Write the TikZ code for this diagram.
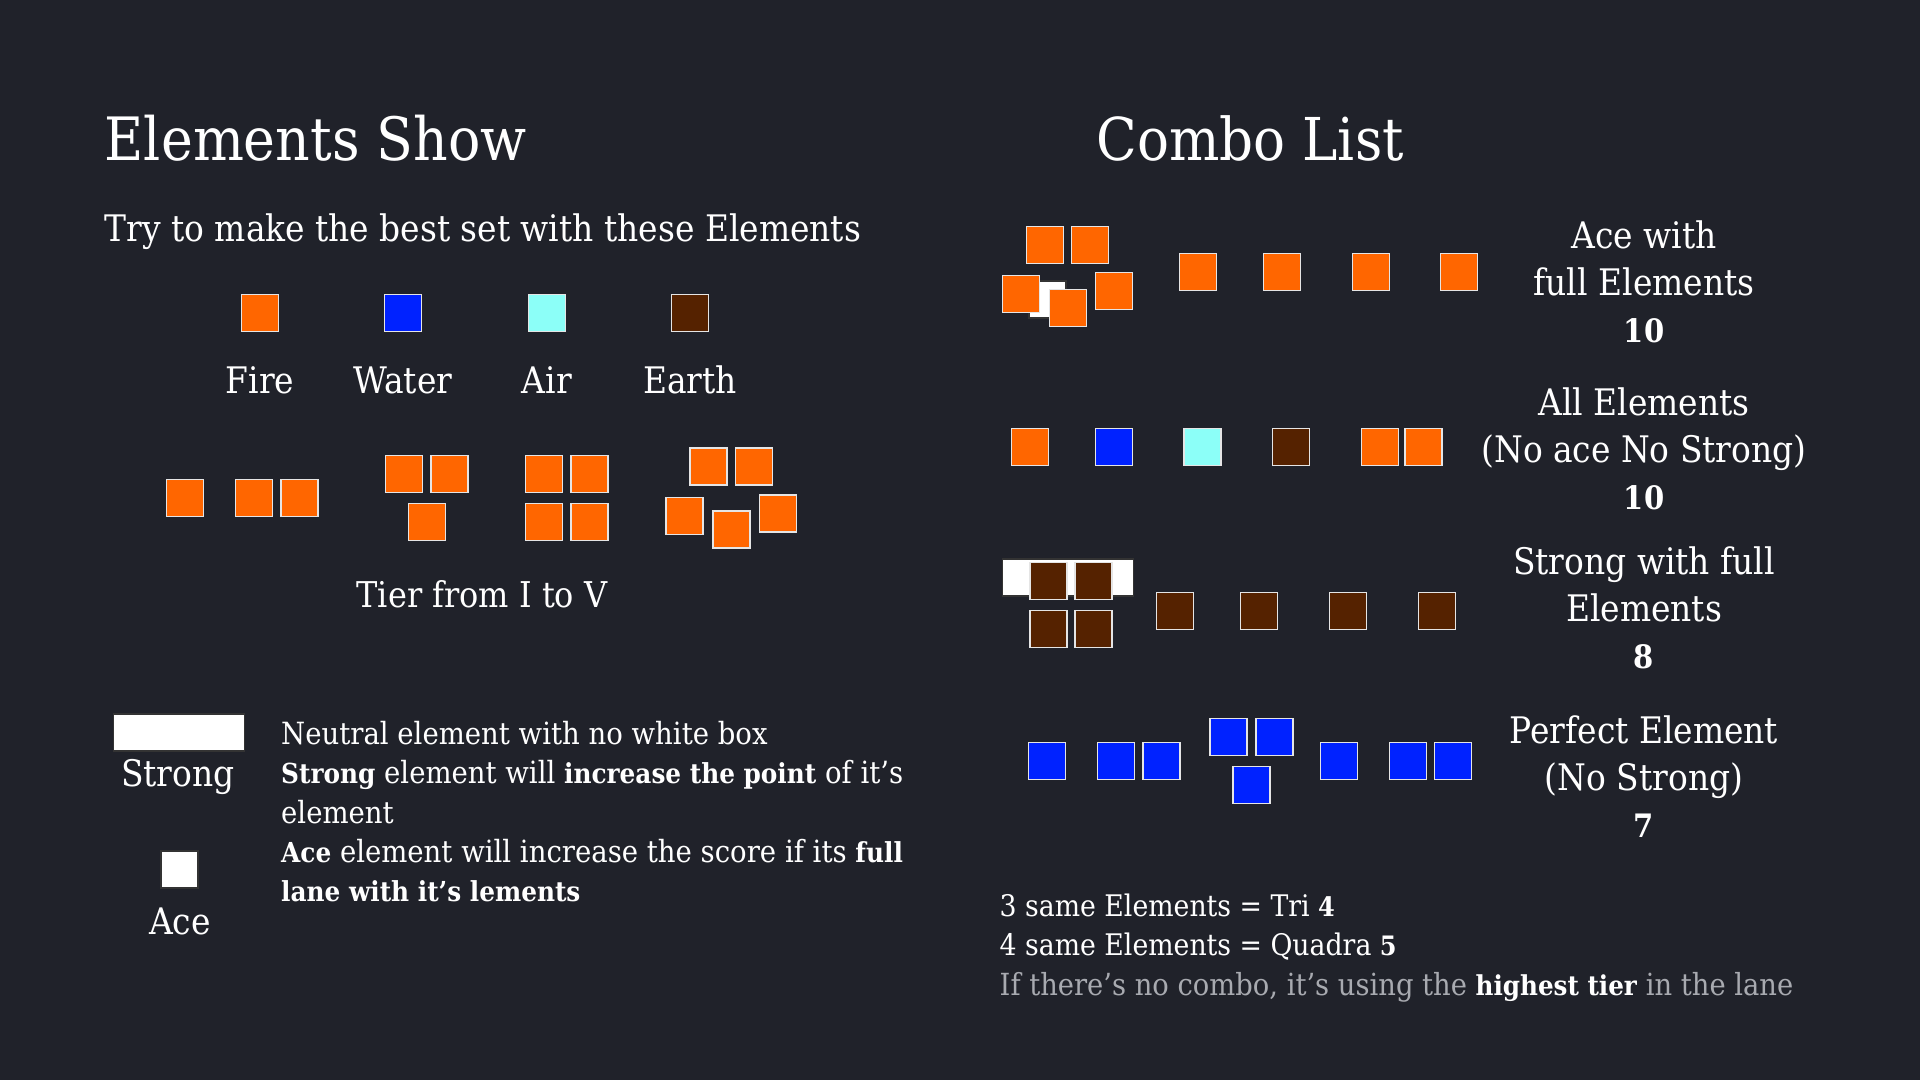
\documentclass[tikz,border=0pt]{standalone}
\usepackage{fontspec}
\setmainfont{DejaVu Serif Condensed}[BoldFeatures={Scale=0.9}]
\usetikzlibrary{calc}
\definecolor{bg}{HTML}{20222A}
\definecolor{fire}{HTML}{FF6600}
\definecolor{water}{HTML}{0022FF}
\definecolor{air}{HTML}{8CFFF8}
\definecolor{earth}{HTML}{552200}
\definecolor{dim}{HTML}{A8AAB0}
\tikzset{
	elem/.style={fill=#1, draw=white!80!gray, line width=0.4pt, minimum size=0.37cm, inner sep=0pt},
	whitebox/.style={fill=white, draw=black!80, line width=0.3pt, inner sep=0pt},
	title/.style={font=\fontsize{17}{20}\selectfont, text=white, anchor=base west, inner sep=0pt},
	lbl/.style={font=\fontsize{10.4}{12}\selectfont, text=white, anchor=base, inner sep=0pt},
	desc/.style={font=\fontsize{8.7}{11}\selectfont, text=white, anchor=base west, inner sep=0pt},
	combo/.style={font=\fontsize{10.4}{13}\selectfont, text=white, anchor=base, inner sep=0pt},
	score/.style={combo, font=\fontsize{10.2}{13}\selectfont\bfseries}
}
\begin{document}
\begin{tikzpicture}[x=0.01cm,y=-0.01cm]
	\fill[bg] (0,0) rectangle (1920,1080);
	\useasboundingbox (0,0) rectangle (1920,1080);

	\node[title] (show) at (104,161) {Elements Show};
	\node[title, font=\fontsize{16.8}{20}\selectfont] (list) at (1096,161) {Combo List};
	\node[desc, font=\fontsize{10.4}{12}\selectfont] (try) at (104,242) {Try to make the best set with these Elements};

	\foreach \name/\col/\x in {Fire/fire/260, Water/water/403, Air/air/547, Earth/earth/690} {
		\node[elem=\col] (\col) at (\x,313) {};
		\node[lbl] (\col-lbl) at (\x,394) {\name};
	}

	\foreach \x/\y [count=\i] in {185/498, 254/498, 299.5/498, 404/474, 449.5/474, 427/522, 544/474, 589.5/474, 544/522, 589.5/522, 708.5/466.5, 754/466.5, 684.5/516, 731.5/529.5, 778/513.5}
		\node[elem=fire] (tier\i) at (\x,\y) {};
	\node[lbl, font=\fontsize{10.1}{12}\selectfont] (tiers) at (482,608) {Tier from I to V};

	\node[whitebox, minimum width=1.3cm, minimum height=0.37cm] (strong) at (179,732.5) {};
	\node[lbl] (strong-lbl) at (178,787) {Strong};
	\node[whitebox, minimum size=0.37cm] (ace) at (179.5,869.5) {};
	\node[lbl] (ace-lbl) at (180,935) {Ace};

	\node[desc] (d1) at (280.5,745) {Neutral element with no white box};
	\node[desc] (d2) at (280.5,784) {\textbf{Strong} element will \textbf{increase the point} of it’s};
	\node[desc] (d3) at (280.5,824) {element};
	\node[desc] (d4) at (280.5,863) {\textbf{Ace} element will increase the score if its \textbf{full}};
	\node[desc] (d5) at (280.5,902) {\textbf{lane with it’s lements}};

	% ace with full elements
	\node[whitebox, minimum size=0.37cm] (ace1) at (1047.5,299.5) {};
	\foreach \x/\y [count=\i] in {1045/245, 1090/245, 1021/294, 1068/308, 1114/291, 1198/272, 1282/272, 1371/272, 1459/272}
		\node[elem=fire] (a\i) at (\x,\y) {};

	% all elements
	\foreach \x/\col [count=\i] in {1030/fire, 1114/water, 1202.5/air, 1291/earth, 1380/fire, 1423.5/fire}
		\node[elem=\col] (b\i) at (\x,447) {};

	% strong with full elements
	\node[whitebox, minimum width=1.3cm, minimum height=0.37cm] (strong3) at (1068,577.5) {};
	\foreach \x/\y [count=\i] in {1048.5/581, 1093.5/581, 1048.5/629, 1093.5/629, 1175/611, 1259/611, 1348/611, 1437/611}
		\node[elem=earth] (c\i) at (\x,\y) {};

	% perfect element
	\foreach \x/\y [count=\i] in {1047/761, 1116/761, 1161.5/761, 1228.5/737, 1274.5/737, 1251.5/785, 1339/761, 1408/761, 1453/761}
		\node[elem=water] (p\i) at (\x,\y) {};

	\foreach \t/\y [count=\i] in {Ace with/249, full Elements/296, All Elements/416, {(No ace No Strong)}/463, Strong with full/575, Elements/622, Perfect Element/744, {(No Strong)}/791}
		\node[combo] (combo\i) at (1644,\y) {\t};
	\foreach \s/\y [count=\i] in {10/343, 10/510, 8/669, 7/838}
		\node[score] (score\i) at (1644,\y) {\s};

	\node[desc, font=\fontsize{8.45}{11}\selectfont] (tri) at (999,917) {3 same Elements = Tri \textbf{4}};
	\node[desc, font=\fontsize{8.45}{11}\selectfont] (quadra) at (999,956) {4 same Elements = Quadra \textbf{5}};
	\node[desc, font=\fontsize{8.65}{11}\selectfont, text=dim] (nocombo) at (999,996) {If there’s no combo, it’s using the \textcolor{white}{\textbf{highest tier}} in the lane};
\end{tikzpicture}
\end{document}
